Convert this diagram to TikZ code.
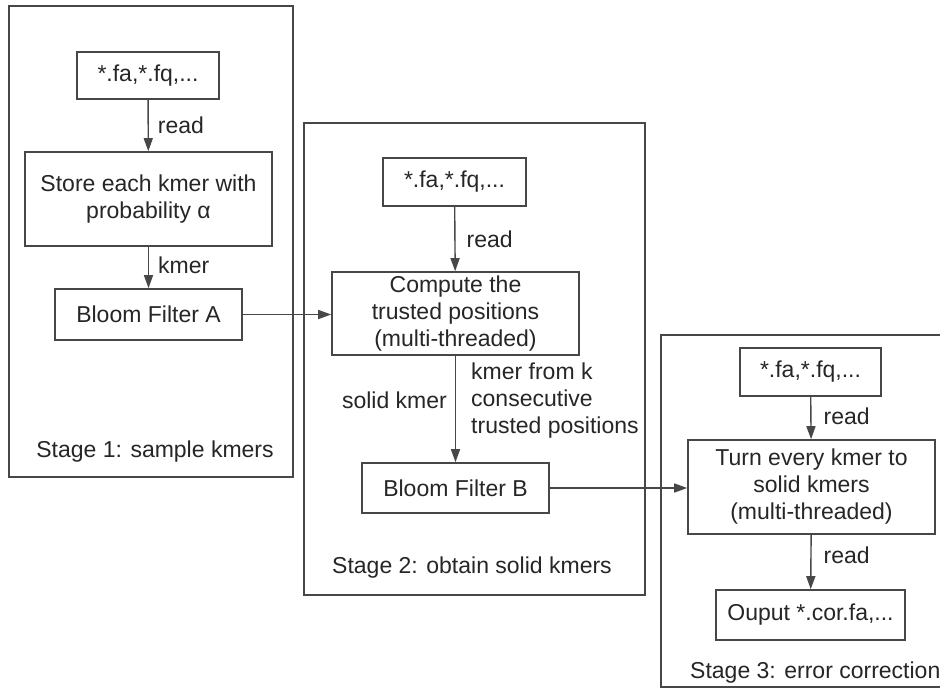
\documentclass[tikz,border=0pt]{standalone}
\usepackage{fontspec}
\setmainfont{Liberation Sans}
\usetikzlibrary{arrows.meta}
\begin{document}
\begin{tikzpicture}[x=1pt,y=-1pt,
  every node/.style={font=\fontsize{23}{27}\selectfont, text=black!85},
  box/.style={draw=black!72, line width=1.6pt, align=center, inner sep=0pt},
  frame/.style={draw=black!72, line width=1.6pt},
  conn/.style={draw=black!72, line width=1.4pt, -{Triangle[length=13pt,width=9pt]}},
  lbl/.style={inner sep=0pt, anchor=west, align=left}]
\useasboundingbox (0,0) rectangle (940,698);
\clip (0,0) rectangle (940,698);
\fill[white] (0,0) rectangle (940,698);

% Stage frames
\draw[frame] (9,6) rectangle (293,477);
\draw[frame] (304,123) rectangle (645,595);
\draw[frame] (661,335) rectangle (960,687);

% Stage 1
\node[box, minimum width=142pt, minimum height=47pt] (in1) at (148,75.5) {*.fa,*.fq,...};
\node[box, minimum width=247pt, minimum height=94pt] (store) at (148.5,199) {Store each kmer with\\probability α};
\node[box, minimum width=187pt, minimum height=51pt] (bloomA) at (148.5,314.5) {Bloom Filter A};
\draw[conn] (in1) -- (store) node[pos=0.5, lbl, xshift=9pt] (r1) {read};
\draw[conn] (store) -- (bloomA) node[pos=0.45, lbl, xshift=9pt] (k1) {kmer};
\node[inner sep=0pt] (s1) at (155,452) {Stage 1: sample kmers};

% Stage 2
\node[box, minimum width=143pt, minimum height=48pt] (in2) at (454.5,182) {*.fa,*.fq,...};
\node[box, minimum width=247pt, minimum height=83pt] (compute) at (455.5,313.5) {Compute the\\trusted positions\\(multi-threaded)};
\node[box, minimum width=187pt, minimum height=50pt] (bloomB) at (455.5,488) {Bloom Filter B};
\draw[conn] (in2) -- (compute) node[pos=0.5, lbl, xshift=11pt] (r2) {read};
\draw[conn] (compute) -- (bloomB);
\node[inner sep=0pt, anchor=east] (solid) at (447,400) {solid kmer};
\node[lbl] (kfrom) at (471,401) {kmer from k\\consecutive\\trusted positions};
\node[inner sep=0pt, anchor=west] (s2) at (332,568) {Stage 2: obtain solid kmers};
\draw[conn] (bloomA.east) -- (bloomA.east -| compute.west);

% Stage 3
\node[box, minimum width=141pt, minimum height=48pt] (in3) at (810.5,372) {*.fa,*.fq,...};
\node[box, minimum width=247pt, minimum height=94pt] (turn) at (811.5,487) {Turn every kmer to\\solid kmers\\(multi-threaded)};
\node[box, minimum width=189pt, minimum height=50pt] (out) at (810.5,615) {Ouput *.cor.fa,...};
\draw[conn] (in3) -- (turn) node[pos=0.45, lbl, xshift=12pt] (r3) {read};
\draw[conn] (turn) -- (out) node[pos=0.38, lbl, xshift=12pt] (r4) {read};
\node[inner sep=0pt, anchor=west] (s3) at (690,673) {Stage 3: error correction};
\draw[conn] (bloomB.east) -- (bloomB.east -| turn.west);
\end{tikzpicture}
\end{document}
